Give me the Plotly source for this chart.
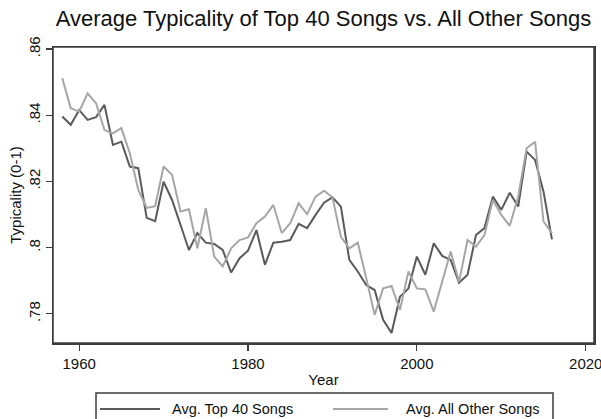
import plotly.graph_objects as go

years = list(range(1958, 2017))

top40 = [0.8396, 0.8371, 0.8416, 0.8386, 0.8394, 0.8431, 0.8310, 0.8320, 0.8245, 0.8240,
         0.8090, 0.8080, 0.8199, 0.8144, 0.8069, 0.7993, 0.8044, 0.8015, 0.8011, 0.7993,
         0.7925, 0.7968, 0.7991, 0.8053, 0.7948, 0.8015, 0.8018, 0.8023, 0.8072, 0.8059,
         0.8099, 0.8136, 0.8152, 0.8124, 0.7963, 0.7928, 0.7887, 0.7872, 0.7782, 0.7742,
         0.7852, 0.7877, 0.7973, 0.7918, 0.8013, 0.7975, 0.7963, 0.7894, 0.7918, 0.8038,
         0.8059, 0.8154, 0.8114, 0.8166, 0.8124, 0.8290, 0.8265, 0.8169, 0.8025]

others = [0.8512, 0.8421, 0.8411, 0.8466, 0.8436, 0.8355, 0.8345, 0.8361, 0.8285, 0.8175,
          0.8120, 0.8125, 0.8245, 0.8220, 0.8109, 0.8116, 0.7998, 0.8119, 0.7973, 0.7943,
          0.7998, 0.8023, 0.8031, 0.8074, 0.8094, 0.8129, 0.8044, 0.8074, 0.8134, 0.8101,
          0.8154, 0.8172, 0.8152, 0.8033, 0.7998, 0.8015, 0.7908, 0.7797, 0.7877, 0.7884,
          0.7812, 0.7928, 0.7877, 0.7874, 0.7807, 0.7900, 0.7988, 0.7897, 0.8023, 0.8003,
          0.8038, 0.8144, 0.8099, 0.8066, 0.8154, 0.8300, 0.8320, 0.8079, 0.8044]

series_names = ["Avg. Top 40 Songs", "Avg. All Other Songs"]
series_colors = ["#5a5a5a", "#a6a6a6"]

x_tickvals = [1960, 1980, 2000, 2020]
x_ticktext = ["1960", "1980", "2000", "2020"]
y_tickvals = [0.78, 0.80, 0.82, 0.84, 0.86]
y_ticktext = [".78", ".8", ".82", ".84", ".86"]

W, H = 601, 419
L, R, T, B = 53, 594, 47, 343
FONT = "Liberation Sans, Arial, Helvetica, sans-serif"
AXC = "#3c3c3c"

fig = go.Figure()
for name, vals, col in zip(series_names, [top40, others], series_colors):
    fig.add_trace(go.Scatter(x=years, y=vals, mode="lines", name=name,
                             line=dict(color=col, width=2), showlegend=False))


def px(xp):
    return (xp - L) / (R - L)


def py(yp):
    return (B - yp) / (B - T)


shapes = [
    dict(type="rect", xref="paper", yref="paper", x0=0, x1=1, y0=0, y1=1,
         line=dict(color=AXC, width=1.5), layer="above"),
    dict(type="rect", xref="paper", yref="paper", x0=px(96), x1=px(553),
         y0=py(430), y1=py(393), line=dict(color=AXC, width=1.5), fillcolor="white"),
    dict(type="line", xref="paper", yref="paper", x0=px(100), x1=px(160),
         y0=py(409), y1=py(409), line=dict(color=series_colors[0], width=2)),
    dict(type="line", xref="paper", yref="paper", x0=px(333), x1=px(388),
         y0=py(409), y1=py(409), line=dict(color=series_colors[1], width=2)),
]
annotations = [
    dict(xref="paper", yref="paper", x=px(170), y=py(409), text=series_names[0],
         showarrow=False, xanchor="left", yanchor="middle",
         font=dict(family=FONT, size=14.5, color="#111")),
    dict(xref="paper", yref="paper", x=px(404), y=py(409), text=series_names[1],
         showarrow=False, xanchor="left", yanchor="middle",
         font=dict(family=FONT, size=14.5, color="#111")),
]

axis_common = dict(showgrid=False, zeroline=False, showline=True, mirror=True,
                   linecolor=AXC, linewidth=1.5, ticks="outside", ticklen=6,
                   tickcolor=AXC, tickwidth=1.2,
                   ticklabeloverflow="allow", tickfont=dict(size=15))

fig.update_layout(
    width=W, height=H,
    margin=dict(l=L, r=W - R, t=T, b=H - B, pad=0, autoexpand=False),
    paper_bgcolor="white", plot_bgcolor="white",
    font=dict(family=FONT, size=15, color="#111"),
    title=dict(text="Average Typicality of Top 40 Songs vs. All Other Songs",
               x=0.5, xref="paper", xanchor="center", y=1 - 18 / H, yanchor="middle",
               font=dict(family=FONT, size=22, color="#111")),
    xaxis=dict(range=[1956.9, 2020.98], tickvals=x_tickvals, ticktext=x_ticktext,
               title=dict(text="Year", standoff=4, font=dict(size=15)), **axis_common),
    yaxis=dict(range=[0.7712, 0.8606], tickvals=y_tickvals, ticktext=y_ticktext,
               tickangle=-90,
               title=dict(text="Typicality (0-1)", standoff=0, font=dict(size=15)),
               **axis_common),
    shapes=shapes, annotations=annotations,
)

fig.write_html("out.html", config={"displayModeBar": False, "staticPlot": True},
               post_script="document.body.style.margin='0';document.body.style.overflow='hidden';")
